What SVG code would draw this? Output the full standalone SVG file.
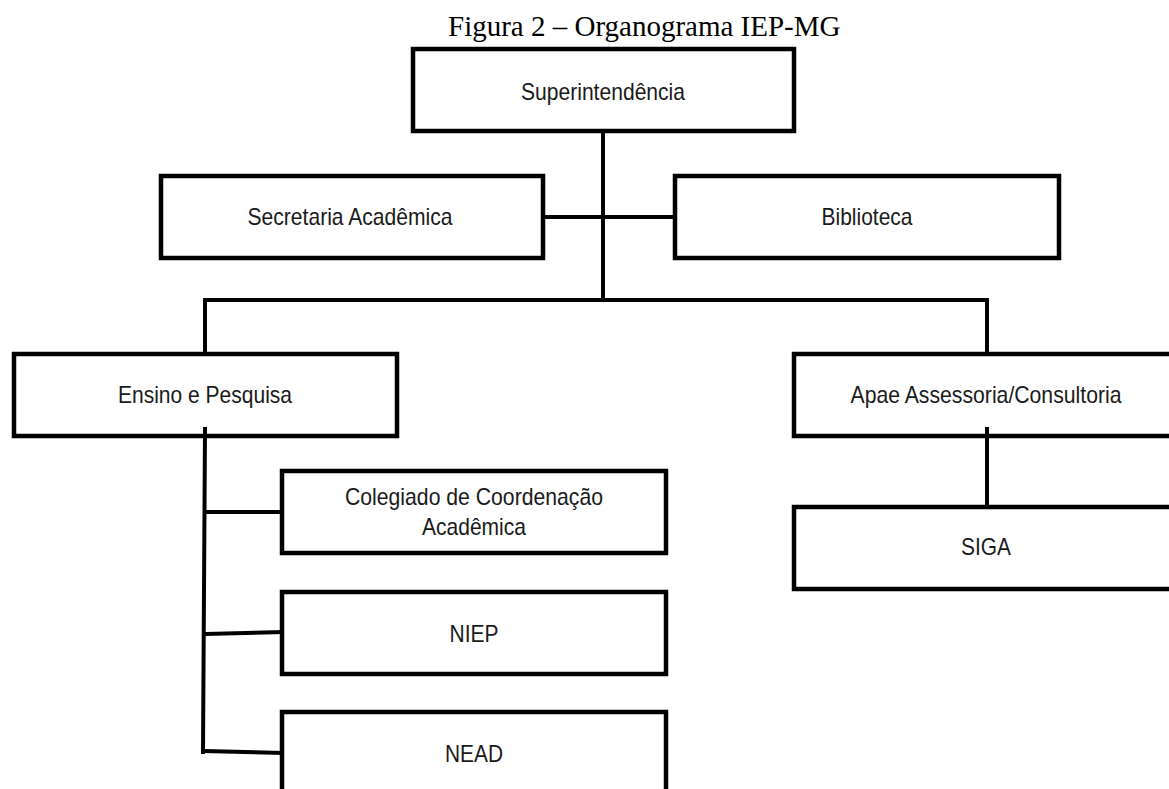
<svg xmlns="http://www.w3.org/2000/svg" width="1169" height="789" viewBox="0 0 1169 789">
<style>
.box{fill:none;stroke:#000;stroke-width:4.5}
.lbl{font-family:"Liberation Sans",Arial,sans-serif;font-size:24px;fill:#1a1a1a;text-anchor:middle}
.title{font-family:"Liberation Serif","Times New Roman",serif;font-size:29px;fill:#000}
.con{stroke:#000;stroke-width:4;fill:none;stroke-linecap:square}
</style>
<rect width="1169" height="789" fill="#fff"/>
<text class="title" x="448" y="36">Figura 2 – Organograma IEP-MG</text>
<g id="connectors">
<line class="con" x1="603" y1="132" x2="603" y2="300"/>
<line class="con" x1="543" y1="217" x2="675" y2="217"/>
<line class="con" x1="205" y1="300" x2="987" y2="300"/>
<line class="con" x1="205" y1="300" x2="205" y2="353"/>
<line class="con" x1="987" y1="300" x2="987" y2="353"/>
<line class="con" x1="987" y1="429" x2="987" y2="506"/>
<line class="con" x1="205" y1="429" x2="203" y2="752"/>
<line class="con" x1="205" y1="512" x2="282" y2="512"/>
<line class="con" x1="206" y1="634" x2="282" y2="632"/>
<line class="con" x1="204" y1="751" x2="282" y2="753"/>
</g>
<g id="superintendencia">
<rect class="box" x="413" y="49" width="381" height="82"/>
<text class="lbl" x="603" y="100" textLength="164" lengthAdjust="spacingAndGlyphs">Superintendência</text>
</g>
<g id="secretaria">
<rect class="box" x="161" y="176" width="382" height="82"/>
<text class="lbl" x="350" y="225" textLength="205" lengthAdjust="spacingAndGlyphs">Secretaria Acadêmica</text>
</g>
<g id="biblioteca">
<rect class="box" x="675" y="176" width="384" height="82"/>
<text class="lbl" x="867" y="225" textLength="91" lengthAdjust="spacingAndGlyphs">Biblioteca</text>
</g>
<g id="ensino">
<rect class="box" x="14" y="354" width="383" height="82"/>
<text class="lbl" x="205" y="403" textLength="174" lengthAdjust="spacingAndGlyphs">Ensino e Pesquisa</text>
</g>
<g id="apae">
<rect class="box" x="794" y="354" width="388" height="82"/>
<text class="lbl" x="986" y="403" textLength="271" lengthAdjust="spacingAndGlyphs">Apae Assessoria/Consultoria</text>
</g>
<g id="siga">
<rect class="box" x="794" y="507" width="388" height="82"/>
<text class="lbl" x="986" y="555" textLength="50" lengthAdjust="spacingAndGlyphs">SIGA</text>
</g>
<g id="colegiado">
<rect class="box" x="282" y="471" width="384" height="82"/>
<text class="lbl" x="474" y="505" textLength="258" lengthAdjust="spacingAndGlyphs">Colegiado de Coordenação</text>
<text class="lbl" x="474" y="535" textLength="104" lengthAdjust="spacingAndGlyphs">Acadêmica</text>
</g>
<g id="niep">
<rect class="box" x="282" y="592" width="384" height="82"/>
<text class="lbl" x="474" y="642" textLength="49" lengthAdjust="spacingAndGlyphs">NIEP</text>
</g>
<g id="nead">
<rect class="box" x="282" y="712" width="384" height="90"/>
<text class="lbl" x="474" y="762" textLength="58" lengthAdjust="spacingAndGlyphs">NEAD</text>
</g>
</svg>
